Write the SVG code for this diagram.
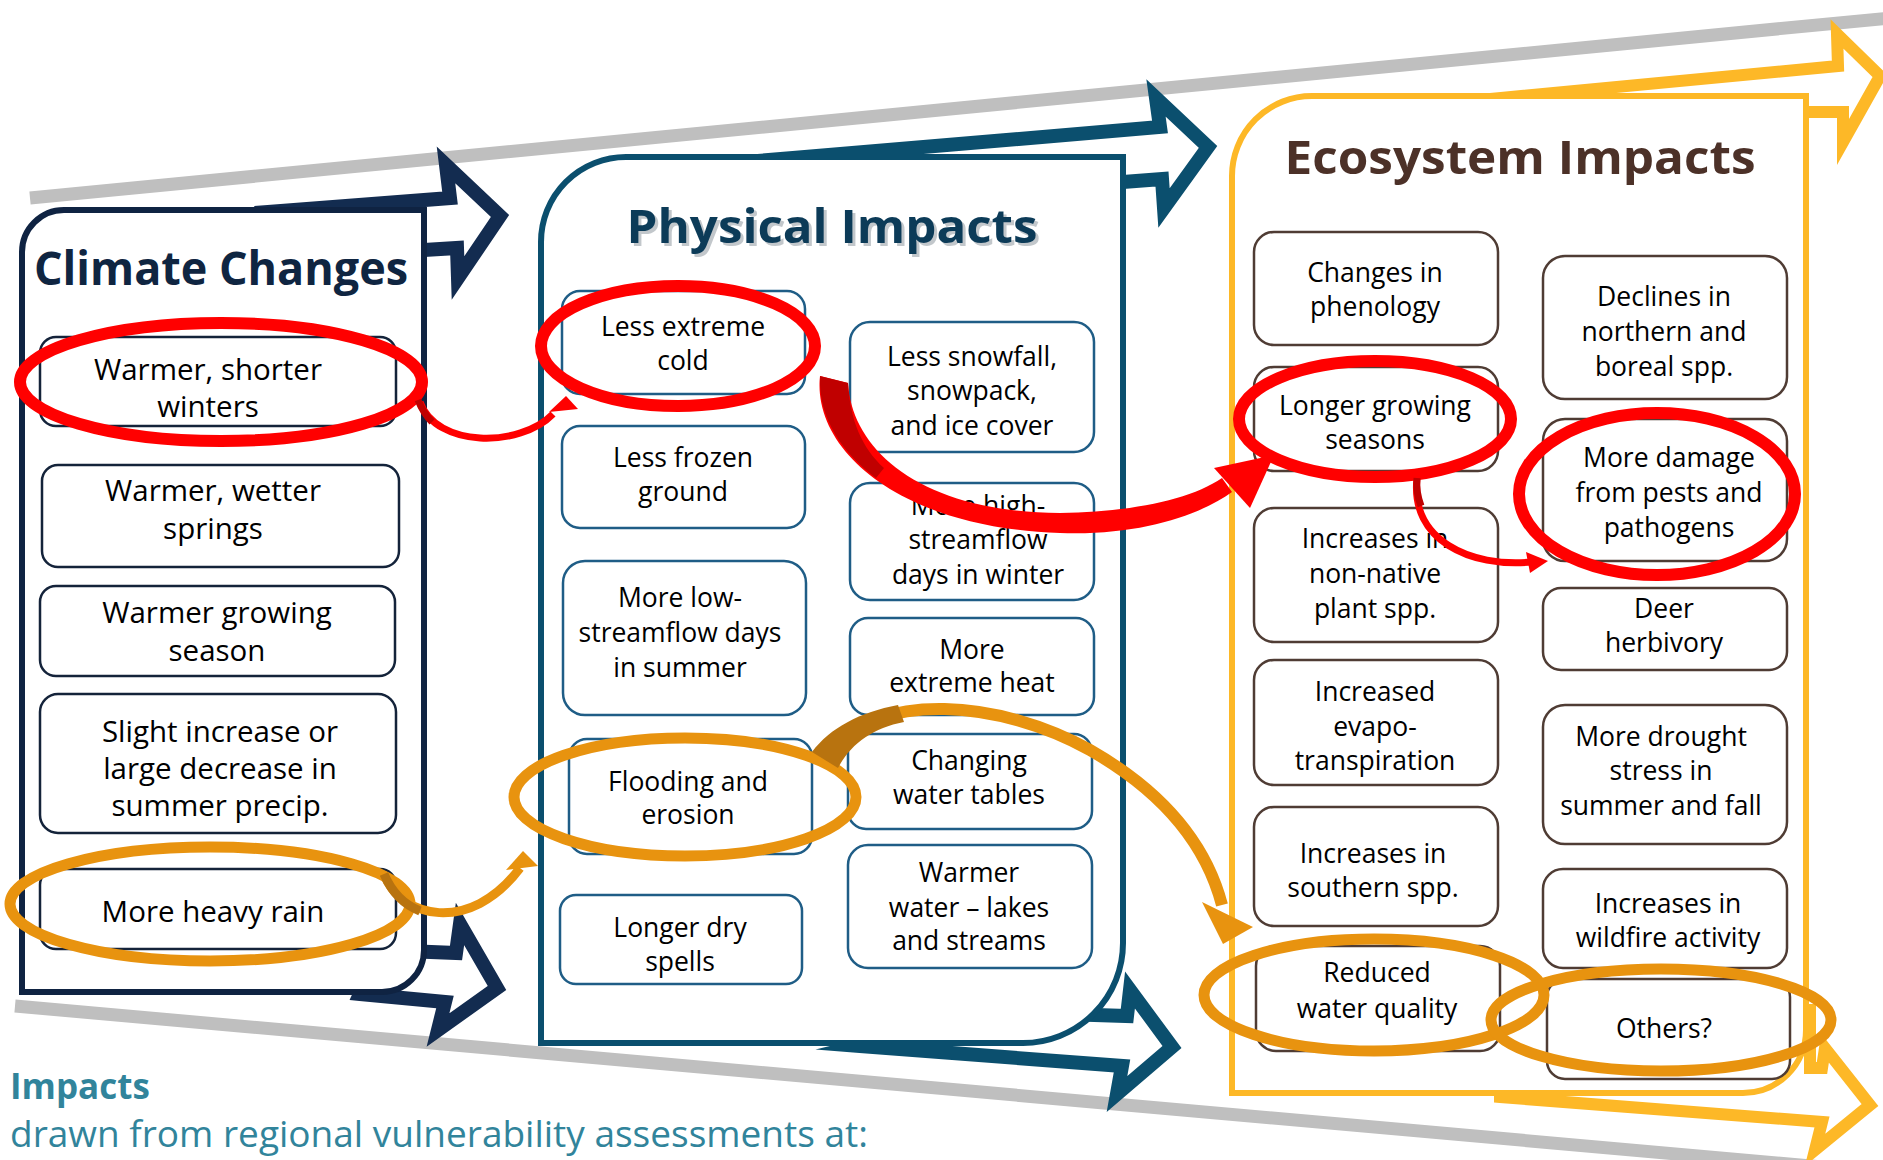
<svg xmlns="http://www.w3.org/2000/svg" width="1883" height="1160" viewBox="0 0 1883 1160">
<defs>
<style>
.gray{stroke:#bfbfbf;stroke-width:13;fill:none}
.pc{fill:#fff;stroke:#0f2342;stroke-width:6}
.pp{fill:#fff;stroke:#0b4f6e;stroke-width:6}
.pe{fill:#fff;stroke:#fdb827;stroke-width:6}
.ac{fill:#fff;stroke:#132c50;stroke-width:14;stroke-linejoin:miter;stroke-miterlimit:10}
.ap{fill:#fff;stroke:#0b4f6e;stroke-width:14;stroke-linejoin:miter;stroke-miterlimit:10}
.ae{fill:#fff;stroke:#fdb827;stroke-width:12;stroke-linejoin:miter;stroke-miterlimit:10}
.bc{fill:#fff;stroke:#14233a;stroke-width:2.5}
.bp{fill:#fff;stroke:#1f5d86;stroke-width:2.5}
.be{fill:#fff;stroke:#4f3c34;stroke-width:2.5}
text{font-family:"Open Sans","Noto Sans","DejaVu Sans",sans-serif;fill:#000;text-anchor:middle}
.tc{font-size:29.5px}
.tp{font-size:26.5px}
.te{font-size:26.5px}
.ttl{font-weight:700;font-size:47px}
.red{fill:none;stroke:#ff0000;stroke-width:12}
.org{fill:none;stroke:#e8930f;stroke-width:11}
.foot{fill:#31849b;text-anchor:start}
</style>
</defs>

<g id="guides">
<line class="gray" x1="30" y1="198" x2="1890" y2="18"/>
<line class="gray" x1="15" y1="1006" x2="1890" y2="1173"/>
</g>

<g id="panel-arrows">
<polygon class="ac" points="268,212 450,198 446,165 500,216 458,278 457,248 424,250 300,250"/>
<polygon class="ac" points="360,994 445,1002 438,1030 497,988 460,924 456,953 380,950"/>
<polygon class="ap" points="793,158 1160,127 1156,98 1208,147 1164,208 1162,179 1123,182 900,182"/>
<polygon class="ap" points="860,1046 1122,1066 1117,1094 1172,1047 1130,990 1127,1016 1000,1012"/>
<polygon class="ae" points="1501,98 1838,66 1837,34 1880,76 1843,142 1843,112 1806,112 1600,112"/>
<polygon class="ae" points="1500,1097 1822,1122 1815,1150 1870,1105 1825,1048 1822,1068 1810,1068 1810,1010 1500,1010"/>
</g>

<g id="climate-changes">
<path class="pc" d="M22 992 L22 252 A42 42 0 0 1 64 210 L424 210 L424 950 A42 42 0 0 1 382 992 Z"/>
<text class="ttl" x="221" y="285" style="fill:#0f2541" textLength="374" lengthAdjust="spacingAndGlyphs">Climate Changes</text>
</g>
<g id="physical-impacts">
<path class="pp" d="M541 1043 L541 242 A85 85 0 0 1 626 157 L1123 157 L1123 943 A100 100 0 0 1 1023 1043 Z"/>
<text class="ttl" x="835" y="246" style="fill:#9aa3aa;opacity:.6" textLength="411" lengthAdjust="spacingAndGlyphs">Physical Impacts</text>
<text class="ttl" x="832" y="243" style="fill:#0c3b58" textLength="411" lengthAdjust="spacingAndGlyphs">Physical Impacts</text>
</g>
<g id="ecosystem-impacts">
<path class="pe" d="M1232 1093 L1232 176 A80 80 0 0 1 1312 96 L1806 96 L1806 1030 A63 63 0 0 1 1743 1093 Z"/>
<text class="ttl" x="1520" y="174" style="fill:#4c3128" textLength="471" lengthAdjust="spacingAndGlyphs">Ecosystem Impacts</text>
</g>

<g id="cc1"><rect class="bc" x="40" y="337" width="356" height="89" rx="16"/><text class="tc" x="208" y="380">Warmer, shorter</text><text class="tc" x="208" y="417">winters</text></g>
<g id="cc2"><rect class="bc" x="42" y="465" width="357" height="102" rx="16"/><text class="tc" x="213" y="501">Warmer, wetter</text><text class="tc" x="213" y="539">springs</text></g>
<g id="cc3"><rect class="bc" x="40" y="586" width="355" height="90" rx="16"/><text class="tc" x="217" y="623">Warmer growing</text><text class="tc" x="217" y="661">season</text></g>
<g id="cc4"><rect class="bc" x="40" y="694" width="356" height="139" rx="18"/><text class="tc" x="220" y="742">Slight increase or</text><text class="tc" x="220" y="779">large decrease in</text><text class="tc" x="220" y="816">summer precip.</text></g>
<g id="cc5"><rect class="bc" x="40" y="869" width="356" height="80" rx="16"/><text class="tc" x="213" y="922">More heavy rain</text></g>

<g id="pi1"><rect class="bp" x="562" y="291" width="243" height="103" rx="18"/><text class="tp" x="683" y="336">Less extreme</text><text class="tp" x="683" y="370">cold</text></g>
<g id="pi2"><rect class="bp" x="562" y="426" width="243" height="102" rx="18"/><text class="tp" x="683" y="467">Less frozen</text><text class="tp" x="683" y="501">ground</text></g>
<g id="pi3"><rect class="bp" x="563" y="561" width="243" height="154" rx="22"/><text class="tp" x="680" y="607">More low-</text><text class="tp" x="680" y="642">streamflow days</text><text class="tp" x="680" y="677">in summer</text></g>
<g id="pi4"><rect class="bp" x="569" y="739" width="243" height="115" rx="18"/><text class="tp" x="688" y="791">Flooding and</text><text class="tp" x="688" y="824">erosion</text></g>
<g id="pi5"><rect class="bp" x="560" y="895" width="242" height="89" rx="16"/><text class="tp" x="680" y="937">Longer dry</text><text class="tp" x="680" y="971">spells</text></g>
<g id="pi6"><rect class="bp" x="850" y="322" width="244" height="130" rx="20"/><text class="tp" x="972" y="366">Less snowfall,</text><text class="tp" x="972" y="400">snowpack,</text><text class="tp" x="972" y="435">and ice cover</text></g>
<g id="pi7"><rect class="bp" x="850" y="483" width="244" height="117" rx="20"/><text class="tp" x="978" y="515">More high-</text><text class="tp" x="978" y="549">streamflow</text><text class="tp" x="978" y="584">days in winter</text></g>
<g id="pi8"><rect class="bp" x="850" y="618" width="244" height="97" rx="18"/><text class="tp" x="972" y="659">More</text><text class="tp" x="972" y="692">extreme heat</text></g>
<g id="pi9"><rect class="bp" x="848" y="734" width="244" height="95" rx="18"/><text class="tp" x="969" y="770">Changing</text><text class="tp" x="969" y="804">water tables</text></g>
<g id="pi10"><rect class="bp" x="848" y="845" width="244" height="123" rx="20"/><text class="tp" x="969" y="882">Warmer</text><text class="tp" x="969" y="917">water – lakes</text><text class="tp" x="969" y="950">and streams</text></g>

<g id="ei1"><rect class="be" x="1254" y="232" width="244" height="113" rx="20"/><text class="te" x="1375" y="282">Changes in</text><text class="te" x="1375" y="316">phenology</text></g>
<g id="ei2"><rect class="be" x="1254" y="367" width="244" height="104" rx="20"/><text class="te" x="1375" y="415">Longer growing</text><text class="te" x="1375" y="449">seasons</text></g>
<g id="ei3"><rect class="be" x="1254" y="508" width="244" height="134" rx="20"/><text class="te" x="1375" y="548">Increases in</text><text class="te" x="1375" y="583">non-native</text><text class="te" x="1375" y="618">plant spp.</text></g>
<g id="ei4"><rect class="be" x="1254" y="660" width="244" height="125" rx="20"/><text class="te" x="1375" y="701">Increased</text><text class="te" x="1375" y="736">evapo-</text><text class="te" x="1375" y="770">transpiration</text></g>
<g id="ei5"><rect class="be" x="1254" y="807" width="244" height="119" rx="20"/><text class="te" x="1373" y="863">Increases in</text><text class="te" x="1373" y="897">southern spp.</text></g>
<g id="ei6"><rect class="be" x="1256" y="946" width="244" height="105" rx="20"/><text class="te" x="1377" y="982">Reduced</text><text class="te" x="1377" y="1018">water quality</text></g>
<g id="ei7"><rect class="be" x="1543" y="256" width="244" height="143" rx="22"/><text class="te" x="1664" y="306">Declines in</text><text class="te" x="1664" y="341">northern and</text><text class="te" x="1664" y="376">boreal spp.</text></g>
<g id="ei8"><rect class="be" x="1543" y="419" width="244" height="142" rx="22"/><text class="te" x="1669" y="467">More damage</text><text class="te" x="1669" y="502">from pests and</text><text class="te" x="1669" y="537">pathogens</text></g>
<g id="ei9"><rect class="be" x="1543" y="588" width="244" height="82" rx="18"/><text class="te" x="1664" y="618">Deer</text><text class="te" x="1664" y="652">herbivory</text></g>
<g id="ei10"><rect class="be" x="1543" y="705" width="244" height="139" rx="22"/><text class="te" x="1661" y="746">More drought</text><text class="te" x="1661" y="780">stress in</text><text class="te" x="1661" y="815">summer and fall</text></g>
<g id="ei11"><rect class="be" x="1543" y="869" width="244" height="99" rx="20"/><text class="te" x="1668" y="913">Increases in</text><text class="te" x="1668" y="947">wildfire activity</text></g>
<g id="ei12"><rect class="be" x="1547" y="979" width="243" height="100" rx="18"/><text class="te" x="1664" y="1038">Others?</text></g>

<g id="highlights">
<ellipse class="red" cx="221" cy="382" rx="201" ry="59"/>
<ellipse class="red" cx="678" cy="346" rx="137" ry="60"/>
<ellipse class="red" cx="1375" cy="419" rx="136" ry="58"/>
<ellipse class="red" cx="1657" cy="494" rx="138" ry="81"/>
<ellipse class="org" cx="210" cy="904" rx="200" ry="57"/>
<ellipse class="org" cx="685" cy="797" rx="171" ry="59"/>
<ellipse class="org" cx="1374" cy="995" rx="170" ry="56"/>
<ellipse class="org" cx="1661" cy="1020" rx="170" ry="51"/>
</g>

<g id="connectors">
<path d="M420 402 C436 448 520 448 553 414" fill="none" stroke="#ff0000" stroke-width="7"/>
<path d="M418 400 C422 410 426 416 432 422" fill="none" stroke="#c00000" stroke-width="7"/>
<polygon points="566,396 578,409 549,412" fill="#ff0000"/>

<path d="M820 376 C812 450 900 528 1060 533 C1140 536 1200 515 1232 492 L1222 478 C1190 500 1130 512 1060 513 C920 512 852 450 848 383 Z" fill="#ff0000"/>
<path d="M820 376 L848 383 C850 420 862 448 884 468 L876 478 C845 455 818 420 820 376 Z" fill="#c00000"/>
<polygon points="1214,468 1274,455 1250,508" fill="#ff0000"/>

<path d="M1417 478 C1410 540 1470 568 1532 562" fill="none" stroke="#ff0000" stroke-width="7"/>
<path d="M1417 478 C1416 490 1418 498 1421 506" fill="none" stroke="#c00000" stroke-width="7"/>
<polygon points="1526,552 1548,561 1530,573" fill="#ff0000"/>

<path d="M384 874 C400 918 470 935 520 868" fill="none" stroke="#e8930f" stroke-width="9"/>
<path d="M384 874 C392 893 405 905 420 911" fill="none" stroke="#b8730f" stroke-width="9"/>
<polygon points="523,851 538,866 506,870" fill="#e8930f"/>

<path d="M826 752 C880 690 1000 700 1090 750 C1160 790 1205 840 1222 905" fill="none" stroke="#e8930f" stroke-width="12"/>
<path d="M812 752 C830 728 860 712 898 705 L904 722 C872 728 850 745 838 768 Z" fill="#b8730f"/>
<polygon points="1202,902 1253,927 1223,944" fill="#e8930f"/>
</g>

<g id="footer">
<text class="foot" x="10" y="1099" style="font-size:35px;font-weight:700">Impacts</text>
<text class="foot" x="10" y="1147" style="font-size:37px">drawn from regional vulnerability assessments at:</text>
</g>
</svg>
